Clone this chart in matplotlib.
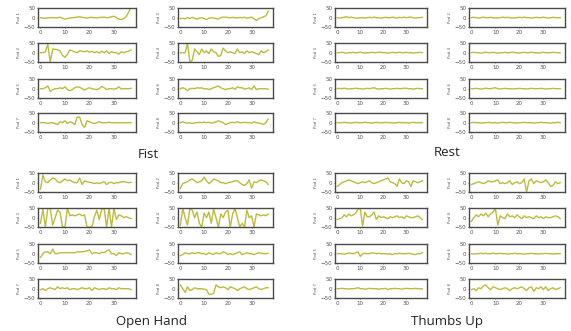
import numpy as np
import matplotlib
matplotlib.use('Agg')
import matplotlib.pyplot as plt

plt.rcParams['font.family'] = ['DejaVu Sans']

## data: 4 gestures x 8 pods, 38 samples each
gestures = ['Fist', 'Rest', 'Open Hand', 'Thumbs Up']
pods = ['Pod 1', 'Pod 2', 'Pod 3', 'Pod 4', 'Pod 5', 'Pod 6', 'Pod 7', 'Pod 8']
xticks = [0, 10, 20, 30]
yticks = [-50, 0, 50]

fist = [
    [0, -2, -3, -1, 0, 1, -1, 0, 2, -3, -8, -5, -2, 0, 1, 3, 5, 2, 0, -2, 1, 2, 0, -1, 1, 2, 3, 0, 1, 5, 8, 0, -8, -10, -5, 5, 30, 60],
    [-5, -3, -6, 0, -4, 2, -3, -8, -2, 0, -5, -10, -3, 0, -2, -5, -8, 0, 3, 2, 1, 0, 2, 0, -1, 1, 0, 2, -2, 0, 3, -5, -15, -5, 0, 5, 10, 35],
    [0, 0, 5, 45, -50, 20, 18, 15, 10, -15, -25, -10, 15, 10, 5, 0, 10, 8, 5, 10, 2, 8, 0, 5, -2, 8, 0, 10, -5, 5, 0, 0, -8, 5, 0, 5, 8, 15],
    [0, 0, 0, 50, -50, -40, 20, 5, -10, 20, 0, 10, -5, 20, 5, 0, -20, -15, 25, 10, 0, 5, 0, -5, 20, 0, 5, -5, 10, 0, 5, 0, -5, -10, 10, 0, 5, 15],
    [0, 0, 5, 15, -15, -5, 0, 0, 5, 0, 10, -5, -10, -5, 5, 10, 8, 0, -8, 0, 5, 0, -3, -5, 0, 12, 5, -5, 0, 0, -2, 0, 10, -2, 0, 0, 0, 2],
    [0, 5, 0, -10, 0, 2, 0, 5, 3, 5, -2, 0, -5, 0, 5, 10, 15, 5, 0, -5, 0, 0, 5, -3, 10, 5, 5, -2, 0, 5, -5, 15, -5, 0, 0, 0, 0, -3],
    [0, 0, 0, -5, 0, 0, -5, -10, 5, 0, 10, -5, 5, 0, -10, 30, 30, -10, -25, 10, 5, 0, -5, 0, 5, 0, 0, 0, 2, 0, 0, 0, 0, 0, 0, 0, 0, 0],
    [0, 5, 0, -3, 0, -5, 0, 0, 2, 0, 3, 0, 2, -2, 0, 5, 10, 5, 0, -10, -5, 0, 2, 0, 5, 0, 0, 2, 0, 0, -3, 5, 0, -2, -5, -10, 0, 20],
]

rest = [
    [0, -2, 0, 2, 5, 0, 3, 0, -2, -3, 0, 0, -2, 0, 2, 0, 3, 0, 0, -2, 0, 2, 0, 0, 3, 0, -2, 2, 0, 3, 0, 2, 3, 0, -2, 0, 0, 2],
    [0, 2, 0, -2, 0, 3, 0, 0, 2, 0, -2, 0, 0, 3, 0, 2, 0, -2, 0, 0, 2, 0, 3, 0, 0, -2, 0, 2, 0, 0, 3, 0, -2, 0, 2, 0, 0, 0],
    [0, 0, 2, 0, -2, 0, 0, 2, 0, 0, 3, 0, -2, 0, 0, 2, 0, 0, 3, 2, 0, 0, -2, 0, 2, 0, 0, 3, 0, 0, 2, 0, 0, -2, 0, 0, 2, 0],
    [0, 2, 0, 0, -2, 0, 3, 0, 0, 2, 0, -2, 0, 0, 2, 0, 0, 3, 0, 0, -2, 0, 2, 0, 0, 3, 0, 0, -2, 0, 2, 0, 0, 0, 2, 0, 0, 0],
    [0, 2, 0, 3, 0, -2, 0, 0, 3, 0, 0, -2, 0, 2, 0, 3, 5, 0, -2, 0, 0, 2, 0, -3, 0, 0, 2, 0, 0, 3, 2, 0, 0, -2, 0, 2, 0, 0],
    [0, 0, 2, 0, -2, 0, 3, 0, 0, 3, 5, 0, -2, 0, 2, 0, 0, -2, 0, 0, 2, 0, 0, -2, 0, 2, 0, 0, 0, 2, 0, -2, 0, 0, 2, 0, 0, 0],
    [0, 0, 0, 2, 0, 0, -2, 0, 2, 0, 0, 0, 2, 0, 0, -2, 0, 2, 0, 0, 0, 2, 0, 0, -2, 0, 0, 2, 0, 0, 0, -2, 0, 2, 0, 0, 0, 0],
    [0, 2, 0, 0, -2, 0, 0, 2, 0, 0, 0, -2, 0, 2, 0, 0, 2, 0, 0, -2, 0, 0, 2, 0, 0, 0, -2, 0, 0, 2, 0, 0, 0, -2, 0, 0, 2, 0],
]

open_hand = [
    [-35, 40, 5, 0, 15, 25, 20, 5, 0, 10, 20, 10, 15, 5, 0, 0, 25, -10, 10, 5, 2, 0, -5, 0, -5, 0, 5, -10, 0, 2, -5, 0, 0, 5, 5, 3, 0, 2],
    [-30, -5, 0, 5, 15, 20, 10, 0, 5, 10, 30, 10, -5, 5, 20, 15, 10, 0, 0, -5, 0, 2, 5, 10, 10, 0, -10, -15, -5, 15, -30, 5, 0, 10, 15, 10, 5, -10],
    [-30, 45, -50, 50, 50, -40, 0, 40, 30, -50, -50, 50, 10, 15, 10, 15, 20, 10, 15, -50, -50, -50, 5, 40, -10, 45, 50, -50, 50, -50, 50, -10, 15, 10, 0, 5, 0, -5],
    [-40, 50, 0, -40, 50, 40, 0, 30, -30, -50, 25, 0, 30, -30, 45, 0, -50, 20, 0, 30, 40, -50, 20, 50, 0, -50, -30, -50, 40, 0, 10, -50, 20, 15, 10, 15, 10, 20],
    [-20, 0, 10, 10, 0, 25, 0, 0, 5, 5, 5, 5, 5, 5, 5, 10, 10, 10, 12, 15, 20, 0, 5, 5, 0, 8, 5, 15, 20, 0, 0, -10, 5, 0, 0, 5, 3, -5],
    [-10, -5, 5, 0, 0, 5, 0, 5, 5, 0, 0, -5, 5, 0, -5, 5, 0, 0, 10, 5, -5, 0, -5, 0, 5, 10, -5, 0, 5, 0, 0, -5, 0, 5, 3, 0, 0, 2],
    [-5, 0, -10, 0, 5, 0, -5, 10, 0, 5, 0, 5, -5, 0, 0, -5, 0, 5, 0, 0, 5, -10, 5, 0, -5, 0, 0, -5, 5, 0, 0, -5, 5, 0, 0, 0, 0, -5],
    [20, 0, -20, 10, -10, -5, 5, 0, 0, 0, -3, -5, -30, -30, -25, 20, 10, 5, 10, 5, -5, 10, 5, 0, -10, 0, 5, 10, 0, -5, 0, 5, 10, 0, -5, 0, 5, 5],
]

thumbs_up = [
    [-20, -10, 0, 5, 10, 15, 10, 5, 0, -5, 0, 5, 0, 5, 10, 0, -5, 0, 5, 10, 15, 20, 25, 5, 0, -5, -20, 20, 0, -5, 10, 5, -20, 10, 5, 0, 5, 10],
    [-10, -5, 0, 5, 0, -5, 0, 10, 5, 5, 10, 15, -5, 0, -5, 0, 10, -10, 0, 5, -5, 0, 20, -50, 10, 20, -5, 10, 5, 0, 5, 15, 0, -20, -15, 5, -5, 0],
    [-10, -5, 0, 15, 5, 20, 10, 15, 25, 45, 50, -45, 30, 5, 5, 15, 30, -10, 10, 0, 5, 0, -5, 5, 0, 5, 10, 0, 5, -5, 10, 5, 0, 0, 5, 10, 0, -10],
    [-20, 0, 15, 5, 20, 10, 25, 5, 20, 30, 50, -40, 10, 0, -5, 20, 5, 10, 0, 15, 5, -5, 10, 0, 5, 0, -5, 10, 0, 5, -5, 5, 0, 0, 5, 10, 5, -5],
    [0, 0, 0, -3, 0, 3, 2, 0, 5, 10, -15, 0, 2, 0, 0, 5, 3, 0, 2, 0, 0, 0, -2, 0, -5, 0, 0, 2, 0, 0, 0, 2, 0, -3, -5, 0, 0, 5],
    [0, -2, 0, 0, 3, 0, 2, 0, 0, 3, 0, 0, 2, 0, 0, -2, 0, 0, 2, 0, 0, 0, -3, 0, 0, 2, 0, 0, -2, 0, 0, 2, 0, 0, -2, 0, 0, 0],
    [0, 0, 2, 0, 0, -2, 0, 0, 2, 5, 0, 0, -3, 0, 2, 0, 0, 0, -3, 0, 0, 2, -5, 0, 0, 2, 0, 0, -3, 0, 2, 0, 0, 0, 2, 0, 0, -2],
    [-5, 0, -10, 5, 0, 15, 20, 5, -5, 10, 5, 0, -5, 0, 5, 0, -10, 0, 5, 0, 5, 10, 0, -10, 5, 10, -15, 5, 0, 10, -5, 10, -10, 0, 5, -5, 0, 5],
]

all_data = [fist, rest, open_hand, thumbs_up]

W, H = 571, 331
fig = plt.figure(figsize=(W / 100, H / 100), dpi=100)

## pixel layout of each block
col_left = {0: [38, 178], 1: [335, 469]}
col_w = {0: [98, 95], 1: [92, 96]}
row_top = {0: [8, 43, 79, 113], 1: [173, 208, 244, 279]}
row_h = 19
title_pos = {0: (148, 155), 1: (447, 153), 2: (152, 322), 3: (447, 322)}

line_color = '#bdbb3c'
frame_color = '#4a4a4a'

for g, data in enumerate(all_data):
    half = g % 2
    band = g // 2
    for p in range(8):
        r, c = p // 2, p % 2
        x0 = col_left[half][c]
        w = col_w[half][c]
        y0 = row_top[band][r]
        ax = fig.add_axes([x0 / W, 1 - (y0 + row_h) / H, w / W, row_h / H])
        y = np.array(data[p])
        ax.plot(np.arange(len(y)), y, color=line_color, linewidth=1.0)
        ax.set_xlim(-1, 39)
        ax.set_ylim(-50, 52)
        ax.set_xticks(xticks)
        ax.set_yticks(yticks)
        ax.tick_params(labelsize=4, length=1, width=0.5, pad=1, colors='#555555')
        for s in ax.spines.values():
            s.set_color(frame_color)
            s.set_linewidth(1.0)
        ax.set_ylabel(pods[p], fontsize=2.8, color='#555555', labelpad=2)
    tx, ty = title_pos[g]
    fig.text(tx / W, 1 - ty / H, gestures[g], fontsize=9.5, family='Open Sans',
             color='#222222', ha='center', va='center')

fig.savefig('out.png', dpi=100)
